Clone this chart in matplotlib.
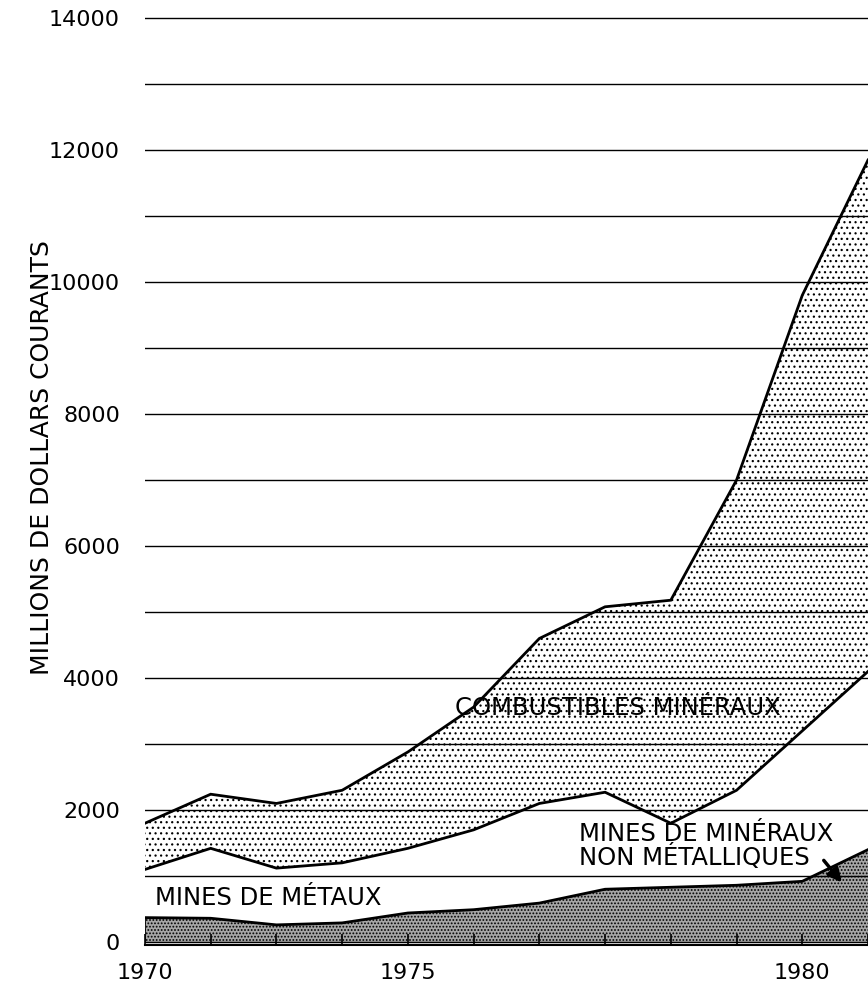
import numpy as np
import matplotlib.pyplot as plt

# ---------------- data (millions de dollars courants) ----------------
years = np.arange(1970, 1982)
metaux = [370, 360, 260, 290, 440, 490, 590, 800, 830, 860, 920, 1400]
non_metalliques = [730, 1060, 860, 910, 980, 1210, 1510, 1470, 970, 1440, 2280, 2700]
combustibles = [700, 820, 980, 1100, 1460, 1860, 2500, 2810, 3380, 4700, 6600, 7750]

ytick_vals = [0, 2000, 4000, 6000, 8000, 10000, 12000, 14000]
xtick_pos = [1970, 1974, 1980]
xtick_txt = ["1970", "1975", "1980"]

# cumulative boundaries
b1 = np.array(metaux)
b2 = b1 + np.array(non_metalliques)
b3 = b2 + np.array(combustibles)

plt.rcParams["hatch.linewidth"] = 0.85
plt.rcParams["hatch.color"] = "black"

fig = plt.figure(figsize=(8.68, 9.93), dpi=100)
ax = fig.add_axes([0.167, 0.048, 0.833, 0.947])

ax.set_xlim(1970, 1980.94)
ax.set_ylim(-50, 14200)

# fills
ax.fill_between(years, 0, b1, facecolor="#a6a6a6", edgecolor="black",
                hatch=".....", linewidth=0, zorder=1)
ax.fill_between(years, b2, b3, facecolor="white", edgecolor="black",
                hatch="...", linewidth=0, zorder=1)

# boundary lines
for b in (b1, b2, b3):
    ax.plot(years, b, color="black", linewidth=2.0, zorder=3, solid_joinstyle="miter")
ax.plot([1970, 1970], [0, b1[0]], color="black", linewidth=1.2, zorder=3)

# horizontal grid every 1000
ax.set_yticks(ytick_vals)
ax.set_yticks(np.arange(1000, 14001, 2000), minor=True)
ax.grid(True, axis="y", which="both", color="black", linewidth=1.0, zorder=2)
ax.set_axisbelow(False)

ax.tick_params(axis="y", which="both", length=0, pad=18, labelsize=16)
ax.set_yticklabels([str(v) for v in ytick_vals])

ax.set_xticks(years)
ax.set_xticklabels([xtick_txt[xtick_pos.index(y)] if y in xtick_pos else "" for y in years])
ax.tick_params(axis="x", direction="in", length=8, width=1.2, pad=13, labelsize=16)

for s in ("top", "right", "left"):
    ax.spines[s].set_visible(False)
ax.spines["bottom"].set_linewidth(1.5)

fig.text(0.048, 0.539, "MILLIONS DE DOLLARS COURANTS", rotation=90,
         ha="center", va="center", fontsize=18)

# labels in the chart
ax.text(1977.2, 3545, "COMBUSTIBLES MINÉRAUX", ha="center", va="center",
        fontsize=17.5, zorder=4)
ax.text(1976.61, 1455, "MINES DE MINÉRAUX\nNON MÉTALLIQUES", ha="left", va="center",
        fontsize=17.5, linespacing=0.9, zorder=4)
ax.text(1970.15, 667, "MINES DE MÉTAUX", ha="left", va="center", fontsize=17.5, zorder=4)
ax.annotate("", xy=(1980.63, 870), xytext=(1980.3, 1270),
            arrowprops=dict(arrowstyle="-|>", color="black", lw=2.5,
                            mutation_scale=20), zorder=5)

fig.savefig("out.png", dpi=100)
